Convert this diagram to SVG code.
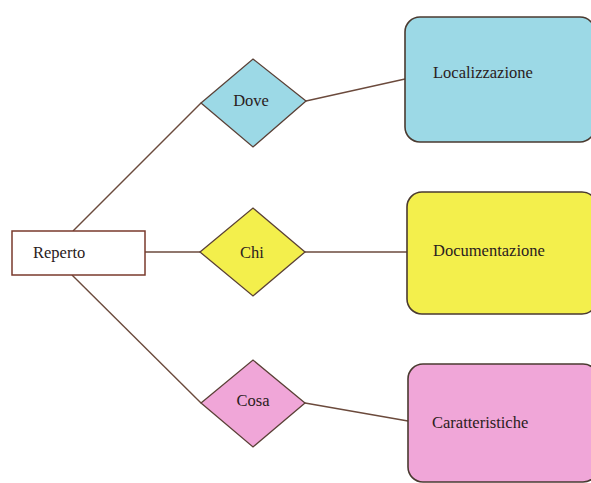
<svg xmlns="http://www.w3.org/2000/svg" width="591" height="483" viewBox="0 0 591 483">
<style>
.bg{fill:#ffffff}
.conn line{stroke:#6b4a3c;stroke-width:1.4;fill:none}
.ent{fill:#ffffff;stroke:#7a3a2c;stroke-width:1.5}
.dia{stroke:#5a4036;stroke-width:1.3}
.box{stroke:#4a3a30;stroke-width:1.6}
.blue{fill:#9cd9e6}
.yellow{fill:#f3ef4c}
.pink{fill:#f0a6d8}
text{font-family:"Liberation Serif","Times New Roman",serif;font-size:16.5px;fill:#2a2020}
.c{text-anchor:middle}
</style>
<rect class="bg" x="0" y="0" width="591" height="483"/>
<g id="connectors" class="conn">
<line x1="73" y1="231" x2="201" y2="103"/>
<line x1="145" y1="252" x2="200" y2="252"/>
<line x1="72" y1="275" x2="201" y2="403"/>
<line x1="306" y1="101" x2="405" y2="79"/>
<line x1="305" y1="252" x2="408" y2="252"/>
<line x1="305" y1="403" x2="408" y2="421"/>
</g>
<g id="reperto">
<rect class="ent" x="12" y="231" width="133" height="44"/>
<text x="33" y="258">Reperto</text>
</g>
<g id="dove">
<polygon class="dia blue" points="201,103 253,59 306,101 253,147"/>
<text class="c" x="251" y="106">Dove</text>
</g>
<g id="chi">
<polygon class="dia yellow" points="200,252 253,208 305,252 253,296"/>
<text class="c" x="252" y="258">Chi</text>
</g>
<g id="cosa">
<polygon class="dia pink" points="201,403 253,360 305,403 253,447"/>
<text class="c" x="253" y="406">Cosa</text>
</g>
<g id="localizzazione">
<rect class="box blue" x="405" y="17" width="190" height="125" rx="15" ry="15"/>
<text x="433" y="78">Localizzazione</text>
</g>
<g id="documentazione">
<rect class="box yellow" x="407" y="192" width="190" height="122" rx="15" ry="15"/>
<text x="433" y="256">Documentazione</text>
</g>
<g id="caratteristiche">
<rect class="box pink" x="408" y="364" width="190" height="118" rx="15" ry="15"/>
<text x="432" y="428">Caratteristiche</text>
</g>
</svg>
